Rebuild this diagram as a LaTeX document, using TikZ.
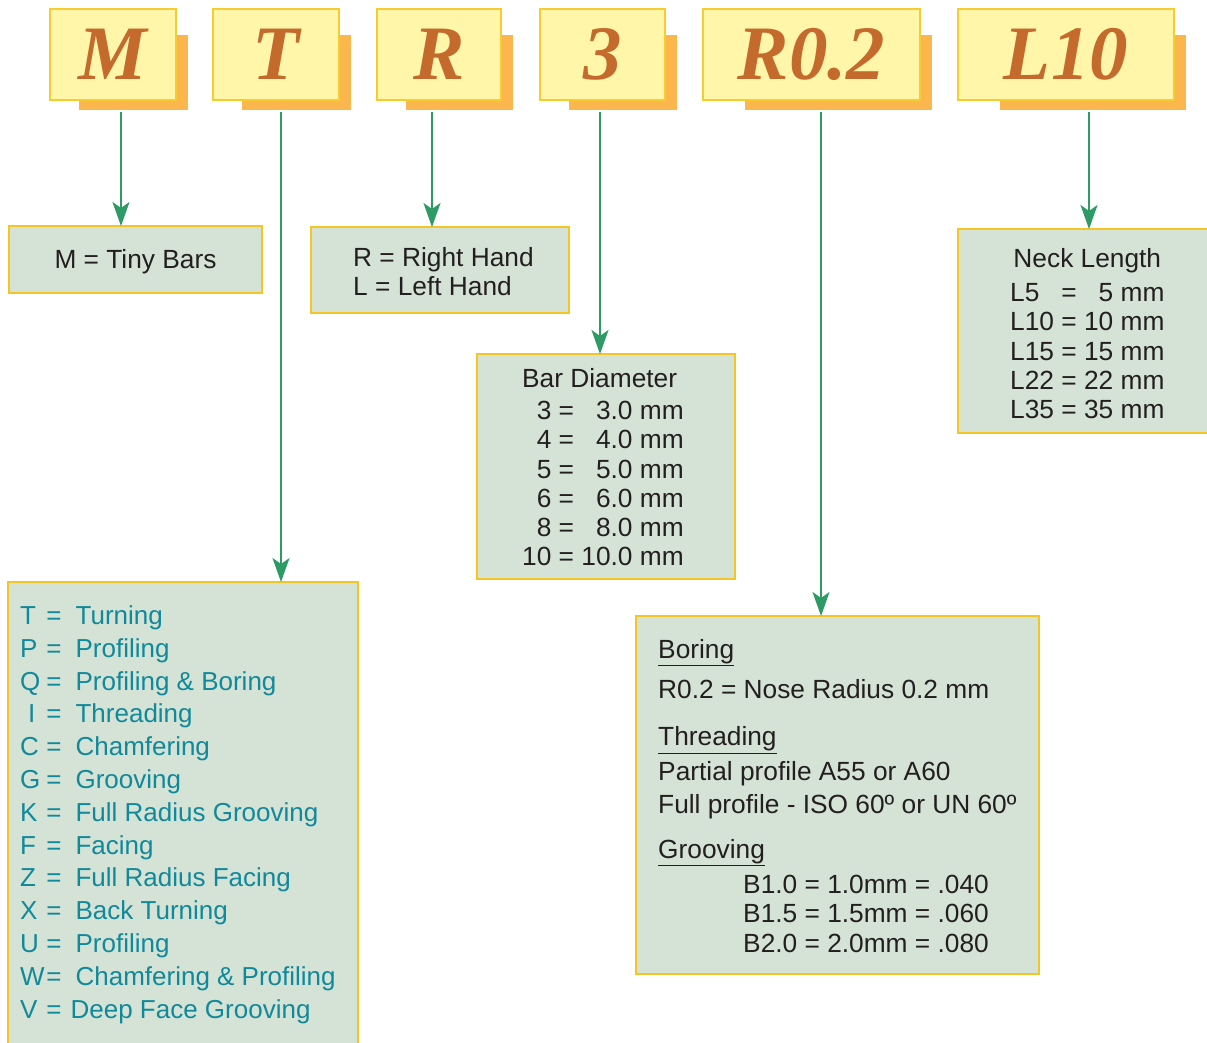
\documentclass[tikz,border=0pt]{standalone}
\usepackage{fontspec}
\setmainfont{Liberation Sans}
\newfontfamily\codefont{Liberation Serif}
\usetikzlibrary{arrows.meta,calc}
\definecolor{tagFill}{HTML}{FFF6A9}
\definecolor{tagEdge}{HTML}{F8CB2E}
\definecolor{tagShade}{HTML}{FBB64E}
\definecolor{tagInk}{HTML}{C46A2C}
\definecolor{keyFill}{HTML}{D5E2D6}
\definecolor{keyEdge}{HTML}{F3C623}
\definecolor{keyInk}{HTML}{231F20}
\definecolor{keyTeal}{HTML}{10899A}
\definecolor{flowGreen}{HTML}{2E9A66}
\tikzset{
  codetag/.style   ={draw=tagEdge,fill=tagFill,line width=1.3pt,minimum height=91pt,
                     inner sep=0pt,outer sep=0pt,text=tagInk,
                     font=\fontsize{77}{77}\selectfont\codefont\bfseries\itshape},
  tagshadow/.style ={fill=tagShade},
  keybox/.style    ={draw=keyEdge,fill=keyFill,line width=1.2pt,inner sep=0pt,outer sep=0pt,
                     anchor=north west},
  keytext/.style   ={inner sep=0pt,anchor=base west,text=keyInk,
                     font=\fontsize{26.3}{29.2}\selectfont},
  opstext/.style   ={keytext,text=keyTeal,font=\fontsize{26}{32.8}\selectfont},
  flow/.style      ={-{Stealth[length=24pt,width=17pt,inset=6pt]},flowGreen,line width=2pt},
}
%% one code letter: name, left edge, right edge, text
\newcommand{\codetag}[4]{%
  \fill[tagshadow] ({#3+12-0.863*(#3-#2)},35) rectangle (#3+12,110);
  \node[codetag,minimum width={#3-#2}] (#1) at ({(#2+#3)/2},54.5) {#4};}

\begin{document}
\begin{tikzpicture}[x=1pt,y=-1pt]
\useasboundingbox (0,0) rectangle (1207,1043);
\fill[white] (0,0) rectangle (1207,1043);

%% code letters along the top
\codetag{cM}{50}{176}{M}
\codetag{cT}{213}{339}{T}
\codetag{cR}{377}{501}{R}
\codetag{cD}{540}{665}{3}
\codetag{cN}{703}{920}{R0.2}
\codetag{cL}{958}{1174}{L10}

%% explanation boxes
\node[keybox,minimum width=253,minimum height=67] (tiny) at (9,226) {};
\node[keybox,minimum width=258,minimum height=86] (hand) at (311,227) {};
\node[keybox,minimum width=258,minimum height=225] (bar) at (477,354) {};
\node[keybox,minimum width=258,minimum height=204] (neck) at (958,229) {};
\node[keybox,minimum width=403,minimum height=358] (nose) at (636,616) {};
\node[keybox,minimum width=350,minimum height=462] (ops) at (8,582) {};

%% their texts, set on the first baseline
\node[keytext,anchor=base] (tinyTxt) at (135.5,268.5) {M = Tiny Bars};

\node[keytext] (handTxt) at (353,266.5)
{\begin{tabular}[t]{@{}l@{}}
R = Right Hand\\
L = Left Hand
\end{tabular}};

\node[keytext] (barTxt) at (522,387.5)
{\begin{tabular}[t]{@{}r@{\ =\ }r@{\ mm}@{}}
\multicolumn{2}{@{}l@{}}{Bar Diameter}\\[3pt]
3 & 3.0\\
4 & 4.0\\
5 & 5.0\\
6 & 6.0\\
8 & 8.0\\
10 & 10.0
\end{tabular}};

\node[keytext] (neckTxt) at (1010,267.5)
{\begin{tabular}[t]{@{}l@{\ =\ }r@{\ mm}@{}}
\multicolumn{2}{@{}c@{}}{Neck Length}\\[5pt]
L5 & 5\\
L10 & 10\\
L15 & 15\\
L22 & 22\\
L35 & 35
\end{tabular}};

\node[keytext] (noseTxt) at (658,658.5)
{\begin{tabular}[t]{@{}l@{}}
\underline{Boring}\\[11pt]
R0.2 = Nose Radius 0.2 mm\\[18pt]
\underline{Threading}\\[5pt]
Partial profile A55 or A60\\[4pt]
Full profile - ISO 60º or UN 60º\\[16pt]
\underline{Grooving}\\[6pt]
\hspace{85pt}B1.0 = 1.0mm = .040\\
\hspace{85pt}B1.5 = 1.5mm = .060\\
\hspace{85pt}B2.0 = 2.0mm = .080
\end{tabular}};

\node[opstext] (opsTxt) at (20,624.5)
{\begin{tabular}[t]{@{}l@{\hspace{6pt}}l@{\hspace{14pt}}l@{}}
T & = & Turning\\
P & = & Profiling\\
Q & = & Profiling \& Boring\\
\hspace{8pt}I & = & Threading\\
C & = & Chamfering\\
G & = & Grooving\\
K & = & Full Radius Grooving\\
F & = & Facing\\
Z & = & Full Radius Facing\\
X & = & Back Turning\\
U & = & Profiling\\
W\hspace{-7pt} & = & Chamfering \& Profiling\\
V & = & \hspace{-5pt}Deep Face Grooving
\end{tabular}};

%% arrows from each letter to its box
\coordinate (aM) at (121,112);
\coordinate (aT) at (281,112);
\coordinate (aR) at (432,112);
\coordinate (aD) at (600,112);
\coordinate (aN) at (821,112);
\coordinate (aL) at (1089,112);
\draw[flow] (aM) -- (aM |- tiny.north);
\draw[flow] (aT) -- (aT |- ops.north);
\draw[flow] (aR) -- (aR |- hand.north);
\draw[flow] (aD) -- (aD |- bar.north);
\draw[flow] (aN) -- (aN |- nose.north);
\draw[flow] (aL) -- (aL |- neck.north);
\end{tikzpicture}
\end{document}
